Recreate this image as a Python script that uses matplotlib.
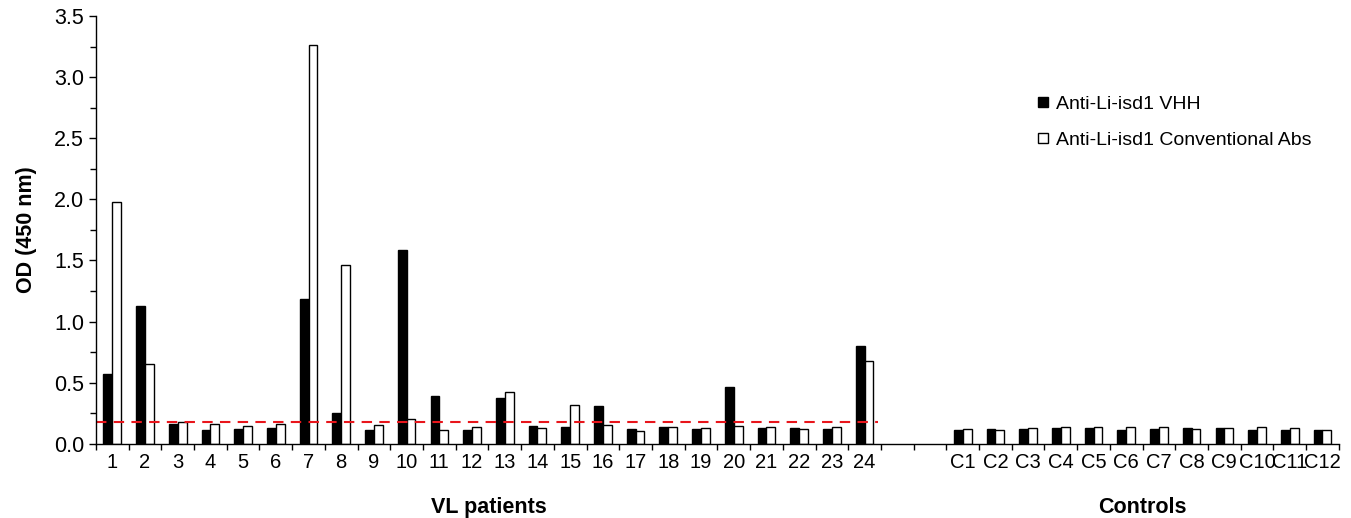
import matplotlib
matplotlib.use("Agg")
import matplotlib.pyplot as plt
from matplotlib.lines import Line2D
import numpy as np

plt.rcParams['font.family'] = ['Liberation Sans', 'DejaVu Sans']

# patients 1..24, then controls C1..C12
patients = [str(i) for i in range(1, 25)]
controls = ['C%d' % i for i in range(1, 13)]

vhh_patients = [0.57, 1.125, 0.158, 0.114, 0.12, 0.13, 1.186, 0.248, 0.114, 1.589,
                0.39, 0.112, 0.376, 0.142, 0.136, 0.31, 0.123, 0.136, 0.12, 0.466,
                0.125, 0.125, 0.123, 0.80]
conv_patients = [1.98, 0.65, 0.175, 0.16, 0.145, 0.16, 3.265, 1.466, 0.15, 0.2,
                 0.112, 0.134, 0.42, 0.128, 0.316, 0.15, 0.10, 0.134, 0.125, 0.145,
                 0.139, 0.123, 0.136, 0.68]
vhh_controls = [0.115, 0.123, 0.12, 0.13, 0.128, 0.115, 0.123, 0.131, 0.126, 0.109, 0.115, 0.112]
conv_controls = [0.123, 0.115, 0.126, 0.134, 0.137, 0.139, 0.134, 0.12, 0.128, 0.134, 0.128, 0.115]

cutoff = 0.175
series_names = ['Anti-Li-isd1 VHH', 'Anti-Li-isd1 Conventional Abs']

# layout: patients, two empty slots, controls
gap = 2
pos_p = np.arange(len(patients))
pos_c = np.arange(len(controls)) + len(patients) + gap
n_slots = len(patients) + gap + len(controls)

fig = plt.figure(figsize=(13.51, 5.18), dpi=100)
ax = fig.add_axes([0.071, 0.1434, 0.920, 0.8257])

fs = 15.5
w = 0.27
kw = dict(width=w, edgecolor='black', linewidth=1.0)
ax.bar(pos_p - w / 2, vhh_patients, color='black', **kw)
ax.bar(pos_p + w / 2, conv_patients, color='white', **kw)
ax.bar(pos_c - w / 2, vhh_controls, color='black', **kw)
ax.bar(pos_c + w / 2, conv_controls, color='white', **kw)

ax.hlines(cutoff, -0.5, len(patients) - 0.6, colors='#e8151b', linestyles=(0, (5, 3.5)), linewidth=1.5)

ax.set_xlim(-0.5, n_slots - 0.5)
ax.set_ylim(0, 3.5)
ax.set_xticks(np.concatenate([pos_p, pos_c]))
ax.set_xticklabels(patients + controls)
ax.set_xticks(np.arange(-0.5, n_slots, 1.0), minor=True)
ax.tick_params(axis='x', which='major', length=0, labelsize=14.5, pad=7)
ax.tick_params(axis='x', which='minor', length=4, width=1)

ax.set_yticks(np.arange(0, 3.51, 0.5))
ax.set_yticklabels(['%.1f' % v for v in np.arange(0, 3.51, 0.5)])
ax.set_yticks(np.arange(0.25, 3.5, 0.5), minor=True)
ax.tick_params(axis='y', which='major', length=5, width=1, labelsize=fs)
ax.tick_params(axis='y', which='minor', length=4, width=1)

for s in ['top', 'right']:
    ax.spines[s].set_visible(False)
for s in ['left', 'bottom']:
    ax.spines[s].set_linewidth(1.0)

ax.set_ylabel('OD (450 nm)', fontsize=fs, fontweight='bold', labelpad=12)

trans = ax.get_xaxis_transform()
ax.text(pos_p.mean(), -0.148, 'VL patients', transform=trans, ha='center', va='center',
        fontsize=fs, fontweight='bold')
ax.text(pos_c.mean(), -0.148, 'Controls', transform=trans, ha='center', va='center',
        fontsize=fs, fontweight='bold')

handles = [Line2D([], [], linestyle='none', marker='s', markersize=7, markerfacecolor=fc,
                  markeredgecolor='black', markeredgewidth=1.0)
           for fc in ['black', 'white']]
ax.legend(handles, series_names, loc='upper left', bbox_to_anchor=(0.7575, 0.815),
          frameon=False, fontsize=14, handlelength=0.55, handletextpad=0.4,
          labelspacing=0.95, borderpad=0, borderaxespad=0)

fig.savefig('out.png', dpi=100)
